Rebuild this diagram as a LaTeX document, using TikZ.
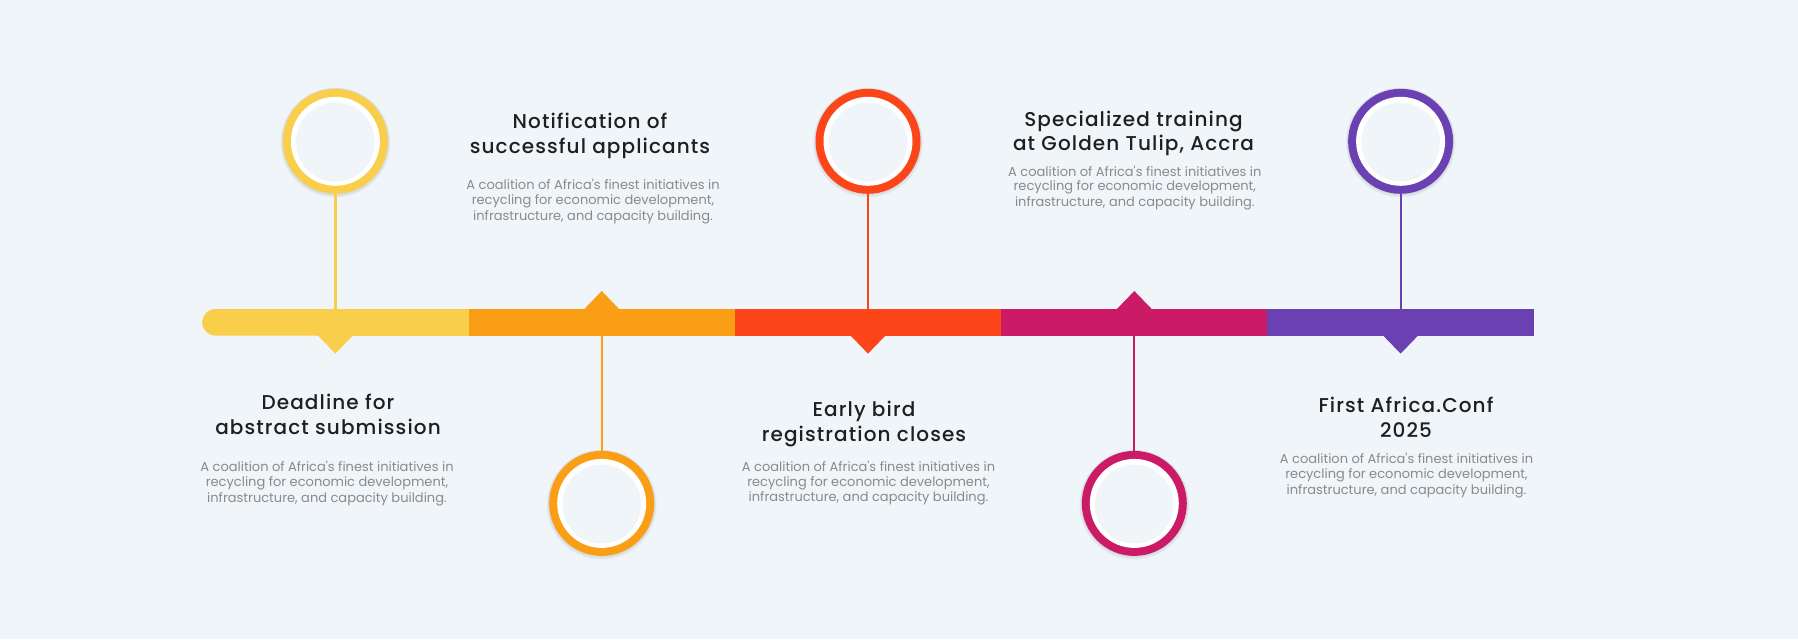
\documentclass[tikz,border=0pt]{standalone}
\usepackage{fontspec}
\setmainfont{Poppins}[Ligatures=TeXOff]
\IfFontExistsTF{Poppins Medium}
  {\newfontfamily\headfont{Poppins Medium}[LetterSpace=5.5]}
  {\newfontfamily\headfont{Poppins}[FakeBold=0.3,LetterSpace=5.5]}

\definecolor{bgc}{HTML}{F0F5F9}
\definecolor{cyel}{HTML}{F9CE4B}
\definecolor{corg}{HTML}{FA9E16}
\definecolor{cred}{HTML}{FC4619}
\definecolor{cmag}{HTML}{CB1B66}
\definecolor{cpur}{HTML}{6B40B3}
\definecolor{titlec}{HTML}{1F1F1F}
\definecolor{descc}{HTML}{8A8A8A}

\tikzset{
  seg/.style={rectangle, minimum width=133.2pt, minimum height=13.3pt, inner sep=0pt, outer sep=0pt, draw=none},
  ring/.style={circle, minimum size=52.5pt, inner sep=0pt, outer sep=0pt, draw=none},
  stemline/.style={line width=1.1pt},
  ttl/.style={anchor=base, inner sep=0pt, font=\headfont\fontsize{10pt}{12.5pt}\selectfont, text=titlec},
  dsc/.style={anchor=base, inner sep=0pt, font=\fontsize{6.5pt}{7.7pt}\selectfont, text=descc},
}

% a milestone disc: soft shadow, coloured rim, white ring, pale centre
% #1 name, #2 bare coordinate "x,y", #3 colour
\newcommand{\milestone}[3]{%
  \coordinate (#1pos) at (#2);
  \fill[black, opacity=0.05] ([yshift=-0.6pt]#1pos) circle (27.4pt);
  \fill[black, opacity=0.05] ([yshift=-0.3pt]#1pos) circle (26.8pt);
  \node[ring, fill=#3] (#1) at (#1pos) {};
  \fill[white] (#1.center) circle (22.25pt);
  \fill[black, opacity=0.05] ([yshift=-0.4pt]#1.center) circle (19.6pt);
  \fill[bgc] (#1.center) circle (19.3pt);
}

\begin{document}
\begin{tikzpicture}[x=0.5pt, y=-0.5pt]
\fill[bgc] (0,0) rectangle (1798,639);
\useasboundingbox (0,0) rectangle (1798,639);

% timeline bar
\node[seg, fill=cyel, rounded corners=6.65pt] (s1) at (335.4,322.3) {};
\fill[cyel] (s1.north) rectangle (s1.south east);
\node[seg, fill=corg] (s2) at (601.7,322.3) {};
\node[seg, fill=cred] (s3) at (868.0,322.3) {};
\node[seg, fill=cmag] (s4) at (1134.3,322.3) {};
\node[seg, fill=cpur] (s5) at (1400.6,322.3) {};

% pointers on the bar
\fill[cyel] ([xshift=-9pt,yshift=0.3pt]s1.south) -- ([xshift=9pt,yshift=0.3pt]s1.south) -- ([yshift=-9pt]s1.south) -- cycle;
\fill[corg] ([xshift=-9pt,yshift=-0.3pt]s2.north) -- ([xshift=9pt,yshift=-0.3pt]s2.north) -- ([yshift=9pt]s2.north) -- cycle;
\fill[cred] ([xshift=-9pt,yshift=0.3pt]s3.south) -- ([xshift=9pt,yshift=0.3pt]s3.south) -- ([yshift=-9pt]s3.south) -- cycle;
\fill[cmag] ([xshift=-9pt,yshift=-0.3pt]s4.north) -- ([xshift=9pt,yshift=-0.3pt]s4.north) -- ([yshift=9pt]s4.north) -- cycle;
\fill[cpur] ([xshift=-9pt,yshift=0.3pt]s5.south) -- ([xshift=9pt,yshift=0.3pt]s5.south) -- ([yshift=-9pt]s5.south) -- cycle;

% milestone discs
\milestone{c1}{335.4,141.3}{cyel}
\milestone{c2}{601.7,503.4}{corg}
\milestone{c3}{868.0,141.3}{cred}
\milestone{c4}{1134.3,503.4}{cmag}
\milestone{c5}{1400.6,141.3}{cpur}

% stems from discs to the bar
\draw[stemline, cyel] (c1.south) -- (s1.north);
\draw[stemline, corg] (c2.north) -- (s2.south);
\draw[stemline, cred] (c3.south) -- (s3.north);
\draw[stemline, cmag] (c4.north) -- (s4.south);
\draw[stemline, cpur] (c5.south) -- (s5.north);

% milestone 1
\node[ttl] (t1a) at (328,409) {Deadline for};
\node[ttl] (t1b) at (328,434) {abstract submission};
\node[dsc] (d1a) at (327,471) {A coalition of Africa's finest initiatives in};
\node[dsc] (d1b) at (327,486.5) {recycling for economic development,};
\node[dsc] (d1c) at (327,502) {infrastructure, and capacity building.};

% milestone 2
\node[ttl] (t2a) at (590,128) {Notification of};
\node[ttl] (t2b) at (590,153.3) {successful applicants};
\node[dsc] (d2a) at (593,189) {A coalition of Africa's finest initiatives in};
\node[dsc] (d2b) at (593,204.3) {recycling for economic development,};
\node[dsc] (d2c) at (593,220) {infrastructure, and capacity building.};

% milestone 3
\node[ttl] (t3a) at (864,416.7) {Early bird};
\node[ttl] (t3b) at (864,441) {registration closes};
\node[dsc] (d3a) at (868.5,471) {A coalition of Africa's finest initiatives in};
\node[dsc] (d3b) at (868.5,486) {recycling for economic development,};
\node[dsc] (d3c) at (868.5,501.7) {infrastructure, and capacity building.};

% milestone 4
\node[ttl] (t4a) at (1133.5,126.7) {Specialized training};
\node[ttl] (t4b) at (1133.5,150.7) {at Golden Tulip, Accra};
\node[dsc] (d4a) at (1134.8,176) {A coalition of Africa's finest initiatives in};
\node[dsc] (d4b) at (1134.8,190.7) {recycling for economic development,};
\node[dsc] (d4c) at (1134.8,206) {infrastructure, and capacity building.};

% milestone 5
\node[ttl] (t5a) at (1406,412.7) {First Africa.Conf};
\node[ttl] (t5b) at (1406,437.3) {2025};
\node[dsc] (d5a) at (1406.5,463.3) {A coalition of Africa's finest initiatives in};
\node[dsc] (d5b) at (1406.5,478.3) {recycling for economic development,};
\node[dsc] (d5c) at (1406.5,494) {infrastructure, and capacity building.};
\end{tikzpicture}
\end{document}
